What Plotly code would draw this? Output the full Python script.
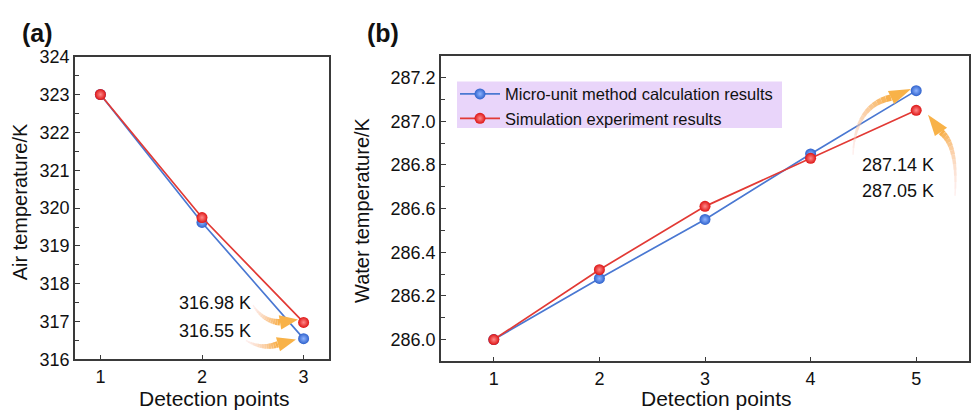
import numpy as np
import plotly.graph_objects as go

# ---------------- data ----------------
points_a = [1, 2, 3]
air_calc = [323.0, 319.62, 316.55]
air_sim = [323.0, 319.75, 316.98]

points_b = [1, 2, 3, 4, 5]
water_calc = [286.0, 286.28, 286.55, 286.85, 287.14]
water_sim = [286.0, 286.32, 286.61, 286.83, 287.05]

series_names = ["Micro-unit method calculation results", "Simulation experiment results"]
value_labels_a = ["316.98 K", "316.55 K"]
value_labels_b = ["287.14 K", "287.05 K"]

# ---------------- layout geometry ----------------
W, H = 973, 419
PANELS = {
    "a": dict(X0=75, X1=329, Y0=49, Y1=367, xr=(0.75, 3.25), yr=(316, 324), xa="x", ya="y"),
    "b": dict(X0=441, X1=969, Y0=48, Y1=369, xr=(0.5, 5.5), yr=(285.9, 287.3), xa="x2", ya="y2"),
}


def to_data(panel, px, py):
    p = PANELS[panel]
    x = p["xr"][0] + (px - p["X0"]) / (p["X1"] - p["X0"]) * (p["xr"][1] - p["xr"][0])
    y = p["yr"][1] - (py - p["Y0"]) / (p["Y1"] - p["Y0"]) * (p["yr"][1] - p["yr"][0])
    return x, y


BLUE = "#2f62cc"
BLUE_LINE = "#4a78d2"
RED = "#dd1414"
RED_LINE = "#e23a35"
FONT = "Arial, Liberation Sans, Helvetica, sans-serif"

fig = go.Figure()


def add_series(xs, ys, name, color, line_color, center, xa, ya, show):
    fig.add_trace(go.Scatter(
        x=xs, y=ys, name=name, mode="lines+markers",
        line=dict(color=line_color, width=1.7),
        marker=dict(size=11, color=color,
                    gradient=dict(type="radial", color=center),
                    line=dict(width=0)),
        xaxis=xa, yaxis=ya, showlegend=show,
    ))


add_series(points_a, air_calc, series_names[0], BLUE, BLUE_LINE, "#8fb4ff", "x", "y", False)
add_series(points_a, air_sim, series_names[1], RED, RED_LINE, "#ff8a8a", "x", "y", False)
add_series(points_b, water_calc, series_names[0], BLUE, BLUE_LINE, "#8fb4ff", "x2", "y2", True)
add_series(points_b, water_sim, series_names[1], RED, RED_LINE, "#ff8a8a", "x2", "y2", True)

# ---------------- decorative curved arrows ----------------
shapes = []

# legend background box
shapes.append(dict(type="rect", xref="paper", yref="paper", layer="below",
                   x0=457 / W, x1=782 / W, y0=1 - 124 / H, y1=1 - 75 / H,
                   fillcolor="#e9d5fa", line=dict(width=0)))


def hex2rgb(h):
    h = h.lstrip("#")
    return tuple(int(h[i:i + 2], 16) for i in (0, 2, 4))


def curved_arrow(panel, p0, c, p2, tip, head_w=15):
    p = PANELS[panel]
    c0 = np.array(hex2rgb("#fbd0cc"))
    c1 = np.array(hex2rgb("#f8b04c"))
    ts = np.linspace(0, 1, 15)
    pts = [((1 - t) ** 2 * np.array(p0) + 2 * (1 - t) * t * np.array(c) + t ** 2 * np.array(p2)) for t in ts]
    for i in range(len(pts) - 1):
        f = i / (len(pts) - 2)
        col = c0 + (c1 - c0) * f
        alpha = 0.35 + 0.65 * f
        xa0, ya0 = to_data(panel, *pts[i])
        xa1, ya1 = to_data(panel, *pts[i + 1])
        shapes.append(dict(type="line", xref=p["xa"], yref=p["ya"], x0=xa0, y0=ya0, x1=xa1, y1=ya1,
                           line=dict(color=f"rgba({int(col[0])},{int(col[1])},{int(col[2])},{alpha:.2f})",
                                     width=1.5 + 5 * f)))
    base = np.array(p2, dtype=float)
    tipv = np.array(tip, dtype=float)
    d = tipv - base
    d = d / np.linalg.norm(d)
    n = np.array([-d[1], d[0]])
    b1 = base + n * head_w / 2
    b2 = base - n * head_w / 2
    q = [to_data(panel, *tipv), to_data(panel, *b1), to_data(panel, *b2)]
    path = f"M {q[0][0]},{q[0][1]} L {q[1][0]},{q[1][1]} L {q[2][0]},{q[2][1]} Z"
    shapes.append(dict(type="path", xref=p["xa"], yref=p["ya"], path=path,
                       fillcolor="#f8b248", line=dict(width=0)))


# panel (a)
curved_arrow("a", (253, 310), (263, 327), (280, 328), (298, 325))
curved_arrow("a", (246, 347), (262, 357), (278, 351), (296, 346))
# panel (b)
curved_arrow("b", (853, 152), (855, 100), (891, 92), (911, 83))
curved_arrow("b", (955, 195), (958, 142), (941, 128), (928, 110))

# ---------------- annotations ----------------
ann = []


def txt(text, px, py, size, bold=False, angle=0, xanchor="center"):
    ann.append(dict(text=f"<b>{text}</b>" if bold else text, x=px / W, y=1 - py / H,
                    xref="paper", yref="paper", showarrow=False, textangle=angle,
                    xanchor=xanchor, yanchor="middle",
                    font=dict(family=FONT, size=size, color="#111111")))


txt("(a)", 37, 24, 25, bold=True)
txt("(b)", 383, 24, 25, bold=True)
txt(value_labels_a[0], 215, 308, 18)
txt(value_labels_a[1], 215, 337, 18)
txt(value_labels_b[0], 898, 163, 18)
txt(value_labels_b[1], 898, 190, 18)
txt("Air temperature/K", 20, 202, 20, angle=-90)
txt("Water temperature/K", 362, 210, 20, angle=-90)
txt("Detection points", 214, 408, 21)
txt("Detection points", 716, 408, 21)

# ---------------- axes ----------------
axis_common = dict(showline=True, linecolor="#3a3a3a", linewidth=1.6, mirror=True,
                   ticks="inside", ticklen=5, tickwidth=1.3, tickcolor="#3a3a3a",
                   showgrid=False, zeroline=False,
                   tickfont=dict(family=FONT, size=18, color="#111111"))

pa, pb = PANELS["a"], PANELS["b"]
fig.update_layout(
    width=W, height=H,
    margin=dict(l=0, r=0, t=0, b=0),
    paper_bgcolor="white", plot_bgcolor="white",
    xaxis=dict(domain=[pa["X0"] / W, pa["X1"] / W], range=list(pa["xr"]), tickvals=points_a,
               anchor="y", **axis_common),
    yaxis=dict(domain=[1 - pa["Y1"] / H, 1 - pa["Y0"] / H], range=list(pa["yr"]), dtick=1,
               minor=dict(dtick=0.5, ticks="inside", ticklen=4, tickwidth=1.2, tickcolor="#3a3a3a"),
               anchor="x", **axis_common),
    xaxis2=dict(domain=[pb["X0"] / W, pb["X1"] / W], range=list(pb["xr"]), tickvals=points_b,
                anchor="y2", **axis_common),
    yaxis2=dict(domain=[1 - pb["Y1"] / H, 1 - pb["Y0"] / H], range=list(pb["yr"]),
                tickvals=[286.0, 286.2, 286.4, 286.6, 286.8, 287.0, 287.2], tickformat=".1f",
                minor=dict(dtick=0.1, ticks="inside", ticklen=4, tickwidth=1.2, tickcolor="#3a3a3a"),
                anchor="x2", **axis_common),
    legend=dict(x=455 / W, y=1 - 70 / H, xanchor="left", yanchor="top",
                bgcolor="rgba(0,0,0,0)", borderwidth=0,
                font=dict(family=FONT, size=16.5, color="#111111"),
                itemwidth=40, tracegroupgap=0),
    shapes=shapes,
    annotations=ann,
    showlegend=True,
)

fig.write_html("out.html", config={"displayModeBar": False},
               post_script="document.body.style.margin='0';document.body.style.overflow='hidden';")
